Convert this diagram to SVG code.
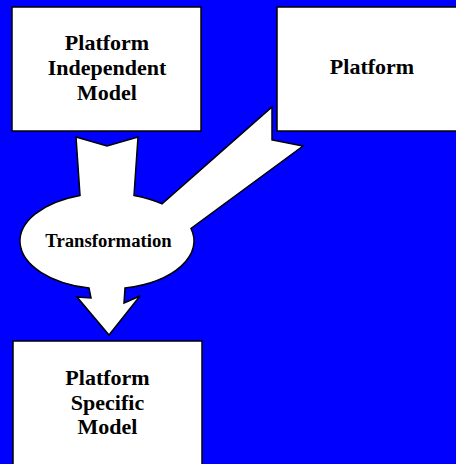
<svg xmlns="http://www.w3.org/2000/svg" width="456" height="464" viewBox="0 0 456 464">
<style>
.box{fill:#fff;stroke:#000;stroke-width:1.5}
.lbl{font-family:"Liberation Serif","Times New Roman",serif;font-weight:bold;font-size:22px;fill:#000;text-anchor:middle}
.arrow{fill:#fff;stroke:#000;stroke-width:1.5;stroke-linejoin:miter}
</style>
<rect x="0" y="0" width="456" height="464" fill="#0000FF"/>
<g id="connectors">
<path class="arrow" d="M76,137 L107,146 L138,137 L134,195.4 A87,48 0 0 1 162,203.8 L272,107 L272,140 L303,146 L191,228.5 A87,48 0 0 1 125,288 L124,303 L140,296 L109,335 L77,297 L91,298 L89,288 A87,48 0 0 1 80,195.4 Z"/>
</g>
<g id="transformation">
<text class="lbl" x="108.5" y="247" style="font-size:18.7px">Transformation</text>
</g>
<g id="pim">
<rect class="box" x="12" y="7" width="189" height="124"/>
<text class="lbl" x="107" y="50">Platform</text>
<text class="lbl" x="107" y="75">Independent</text>
<text class="lbl" x="107" y="100">Model</text>
</g>
<g id="platform">
<rect class="box" x="277" y="7" width="189" height="124"/>
<text class="lbl" x="372" y="74">Platform</text>
</g>
<g id="psm">
<rect class="box" x="13" y="341" width="189" height="130"/>
<text class="lbl" x="107.5" y="385">Platform</text>
<text class="lbl" x="107.5" y="410">Specific</text>
<text class="lbl" x="107.5" y="434">Model</text>
</g>
</svg>
